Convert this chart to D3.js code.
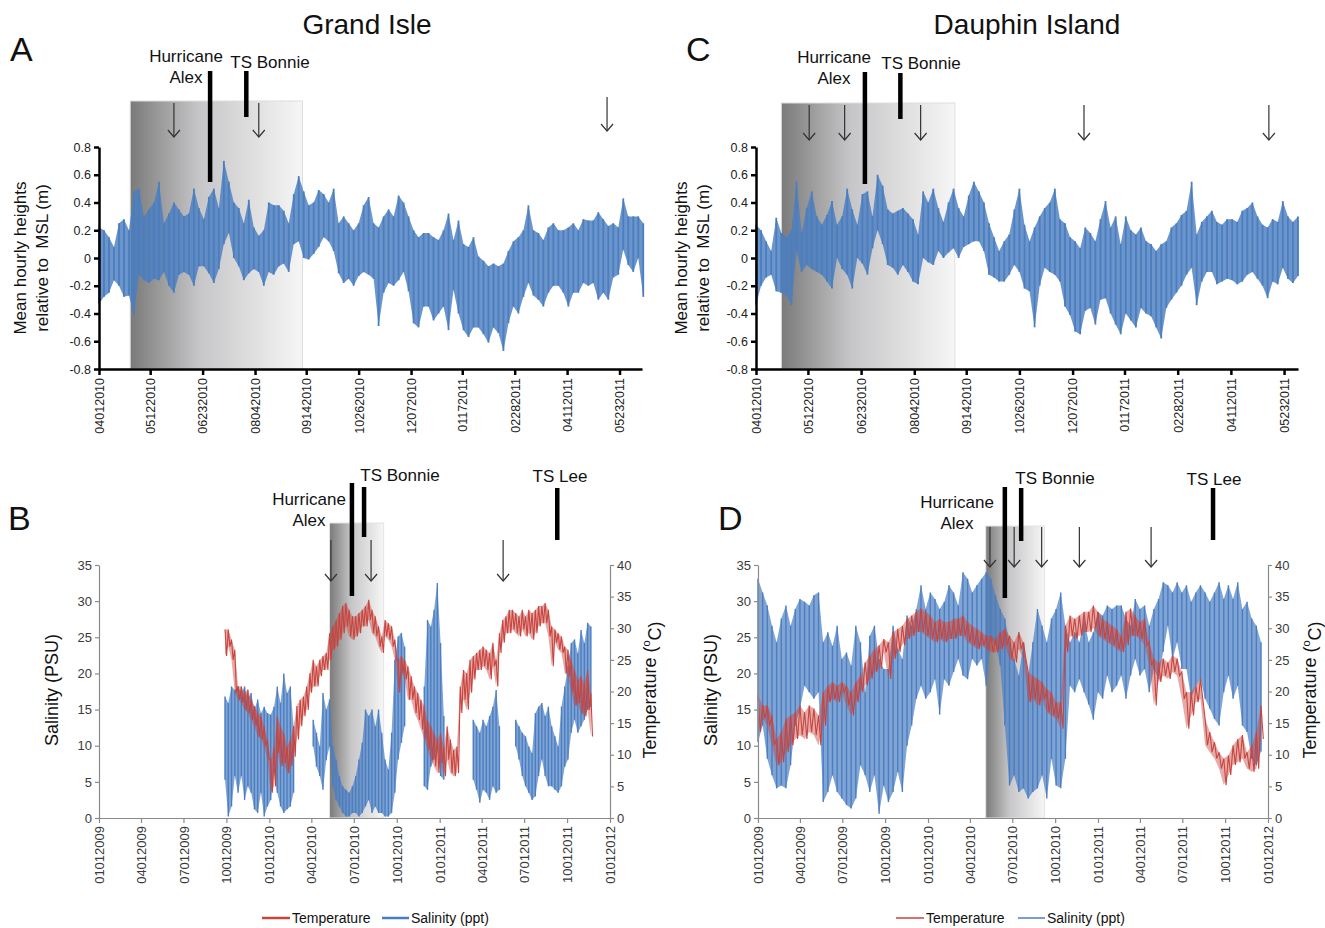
<!DOCTYPE html>
<html>
<head>
<meta charset="utf-8">
<script src="https://cdn.jsdelivr.net/npm/d3@7"></script>
<style>
  body { margin: 0; background: #fff; }
  svg { font-family: Arial, "Liberation Sans", sans-serif; }
</style>
</head>
<body>
<svg id="chart" width="1325" height="928"></svg>
<script>
// ---- tick labels ----
const SEA_TICK_LABELS = ["04012010", "05122010", "06232010", "08042010", "09142010", "10262010",
  "12072010", "01172011", "02282011", "04112011", "05232011"];
const SEA_Y_TICKS = [0.8, 0.6, 0.4, 0.2, 0, -0.2, -0.4, -0.6, -0.8];
const QUARTER_TICK_LABELS = ["01012009", "04012009", "07012009", "10012009", "01012010", "04012010",
  "07012010", "10012010", "01012011", "04012011", "07012011", "10012011", "01012012"];
const SAL_TICKS = [0, 5, 10, 15, 20, 25, 30, 35];
const TEMP_TICKS = [0, 5, 10, 15, 20, 25, 30, 35, 40];

// ---- Grand Isle water level, 4-day envelope (m), from 04/01/2010 ----
const GI_SEA_HI = [0.22, 0.2, 0.15, 0.08, 0.25, 0.28, 0.2, 0.48, 0.5, 0.3,
  0.35, 0.4, 0.55, 0.25, 0.32, 0.4, 0.35, 0.3, 0.32, 0.5,
  0.36, 0.28, 0.44, 0.5, 0.36, 0.7, 0.55, 0.4, 0.36, 0.25,
  0.42, 0.22, 0.16, 0.2, 0.4, 0.38, 0.38, 0.34, 0.25, 0.46,
  0.59, 0.48, 0.38, 0.4, 0.49, 0.46, 0.4, 0.5, 0.25, 0.3,
  0.25, 0.2, 0.25, 0.38, 0.44, 0.25, 0.22, 0.3, 0.35, 0.3,
  0.45, 0.4, 0.3, 0.2, 0.15, 0.18, 0.18, 0.15, 0.13, 0.2,
  0.32, 0.13, 0.27, 0.1, 0.08, 0.15, 0.01, -0.02, -0.06, -0.04,
  -0.06, -0.04, 0.05, 0.12, 0.15, 0.2, 0.38, 0.2, 0.18, 0.13,
  0.22, 0.25, 0.2, 0.2, 0.22, 0.25, 0.2, 0.28, 0.27, 0.27,
  0.33, 0.28, 0.23, 0.25, 0.22, 0.43, 0.3, 0.3, 0.3, 0.25];
const GI_SEA_LO = [-0.33, -0.28, -0.25, -0.16, -0.2, -0.28, -0.27, -0.41, -0.12, -0.16,
  -0.18, -0.15, -0.16, -0.1, -0.2, -0.25, -0.12, -0.1, -0.12, -0.2,
  -0.06, -0.06, -0.11, -0.18, -0.08, 0.1, 0.18, 0.0, -0.06, -0.16,
  -0.11, -0.08, -0.1, -0.2, -0.1, -0.12, -0.06, -0.04, -0.1, 0.1,
  0.12, 0.0, -0.01, 0.03, 0.08, 0.15, 0.12, 0.05, -0.11, -0.18,
  -0.15, -0.2, -0.13, -0.1, -0.12, -0.15, -0.49, -0.25, -0.18, -0.2,
  -0.16, -0.1, -0.24, -0.47, -0.5, -0.35, -0.35, -0.45, -0.4, -0.35,
  -0.52, -0.23, -0.4, -0.52, -0.57, -0.5, -0.5, -0.55, -0.61, -0.5,
  -0.54, -0.67, -0.47, -0.35, -0.4, -0.28, -0.18, -0.27, -0.3, -0.35,
  -0.25, -0.2, -0.2, -0.25, -0.35, -0.25, -0.25, -0.18, -0.2, -0.18,
  -0.3, -0.25, -0.3, -0.14, -0.12, 0.06, -0.05, -0.1, 0.0, -0.28];

// ---- Dauphin Island water level, 4-day envelope (m), from 04/01/2010 ----
const DI_SEA_HI = [0.24, 0.2, 0.12, 0.05, 0.29, 0.18, 0.15, 0.2, 0.55, 0.18,
  0.36, 0.48, 0.3, 0.24, 0.31, 0.41, 0.24, 0.3, 0.5, 0.35,
  0.24, 0.46, 0.48, 0.3, 0.6, 0.52, 0.35, 0.32, 0.34, 0.36,
  0.32, 0.28, 0.17, 0.48, 0.4, 0.5, 0.36, 0.26, 0.4, 0.5,
  0.36, 0.3, 0.45, 0.55, 0.48, 0.4, 0.25, 0.15, 0.05, 0.12,
  0.17, 0.35, 0.5, 0.24, 0.12, 0.22, 0.3, 0.36, 0.4, 0.5,
  0.28, 0.25, 0.15, 0.12, 0.07, 0.22, 0.18, 0.12, 0.28, 0.41,
  0.22, 0.3, 0.1, 0.3, 0.2, 0.17, 0.22, 0.12, 0.1, 0.05,
  0.1, 0.12, 0.22, 0.25, 0.31, 0.34, 0.55, 0.17, 0.26, 0.3,
  0.34, 0.26, 0.24, 0.28, 0.28, 0.26, 0.34, 0.36, 0.4, 0.3,
  0.24, 0.22, 0.28, 0.26, 0.41, 0.3, 0.26, 0.3];
const DI_SEA_LO = [-0.34, -0.2, -0.14, -0.12, -0.24, -0.25, -0.27, -0.34, 0.05, -0.1,
  -0.05, -0.08, -0.1, -0.12, -0.17, -0.22, 0.0, -0.08, -0.12, -0.22,
  0.0, -0.04, -0.12, 0.07, 0.2, 0.1, -0.05, -0.07, -0.12, -0.05,
  -0.1, -0.17, -0.19, 0.0, -0.03, -0.05, 0.05, 0.0, 0.04, 0.07,
  0.0, 0.08, 0.1, 0.12, 0.12, 0.05, -0.12, -0.14, -0.17, -0.17,
  -0.12, -0.05, -0.1, -0.22, -0.24, -0.5, -0.2, -0.07, -0.1, -0.12,
  -0.17, -0.35, -0.41, -0.53, -0.55, -0.38, -0.36, -0.48, -0.3, -0.29,
  -0.4, -0.48, -0.55, -0.4, -0.45, -0.5, -0.36, -0.4, -0.42, -0.5,
  -0.58, -0.36, -0.3, -0.25, -0.2, -0.12, -0.07, -0.34, -0.17, -0.1,
  -0.1, -0.19, -0.17, -0.15, -0.16, -0.19, -0.17, -0.12, -0.1, -0.15,
  -0.2, -0.29, -0.17, -0.19, -0.07, -0.15, -0.18, -0.13];

// ---- Grand Isle salinity / temperature, 7-day envelope, from 09/28/2009 ----
const GI_SAL_HI = [16.8, 15.9, 18.2, 17.7, 18.2, 17.3, 18.2, 16.4, 17.3, 15.0,
  16.4, 14.5, 15.4, 14.5, 14.3, 15.4, 18.2, 15.9, 20.0, 17.3,
  18.2, 12.7, null, null, null, null, null, 13.6, 11.8, 9.9,
  17.3, 15.0, 16.4, 9.9, 8.1, 5.8, 4.4, 3.9, 3.5, 4.4,
  5.8, 8.1, 10.4, 15.0, 14.1, 15.0, 12.7, 15.0, 11.8, 8.1,
  6.7, 11.8, 21.9, 25.1, 25.6, 23.7, null, null, null, null,
  null, 18.2, 27.4, 26.5, 28.8, 32.5, 24.2, 14.1, null, null,
  null, null, null, null, null, null, 13.6, 12.7, 11.8, 13.6,
  12.7, 14.1, 15.4, 17.7, 12.7, null, null, null, null, 13.6,
  12.7, 11.8, 11.3, 9.9, 9.0, 14.5, 15.4, 15.9, 14.1, 15.4,
  12.7, 11.3, 9.9, 15.4, 18.2, 21.0, 24.2, 24.7, 22.8, 26.0,
  24.2, 27.0, 26.5];
const GI_SAL_LO = [5.3, 0.2, 1.6, 5.8, 3.5, 5.8, 2.5, 4.4, 3.5, 1.2,
  0.7, 3.5, 0.2, 1.6, 2.5, 6.2, 3.5, 1.6, 0.7, 1.2,
  1.6, 3.5, null, null, null, null, null, 9.9, 7.1, 5.8,
  3.9, 8.0, 9.9, 4.4, 2.5, 1.6, 0.7, 0.2, 0.2, 0.7,
  0.7, 0.2, 0.7, 1.6, 2.5, 0.7, 1.6, 0.7, 0.7, 0.2,
  0.2, 0.7, 3.5, 8.1, 10.4, 12.7, null, null, null, null,
  null, 4.4, 3.9, 7.1, 8.1, 9.9, 5.8, 5.3, null, null,
  null, null, null, null, null, null, 5.3, 3.9, 2.1, 3.9,
  3.5, 2.5, 4.4, 3.5, 3.9, null, null, null, null, 9.9,
  8.1, 5.8, 4.4, 3.5, 2.5, 3.0, 5.8, 8.1, 5.8, 4.4,
  4.4, 3.9, 3.5, 4.4, 7.1, 8.1, 11.8, 13.6, 11.8, 12.7,
  13.6, 15.0, 15.4];
const GI_TEMP_HI = [29.8, 29.8, 28.2, 26.6, 20.8, 20.8, 19.8, 20.3, 18.7, 17.7,
  16.6, 16.1, 14.5, 12.4, 9.2, 11.3, 16.1, 14.5, 13.4, 11.3,
  12.4, 14.5, 17.7, 18.7, 19.2, 20.8, 22.9, 25.0, 24.0, 25.0,
  25.6, 26.1, 29.2, 30.3, 31.3, 32.4, 33.5, 34.0, 32.9, 31.9,
  31.9, 32.4, 32.9, 33.5, 34.5, 32.9, 31.9, 30.3, 28.7, 31.3,
  30.8, 30.3, 28.2, 25.0, 25.6, 25.0, 24.0, 22.4, 20.8, 19.8,
  18.7, 17.7, 15.5, 14.5, 13.4, 12.4, 13.4, 11.3, 14.5, 12.4,
  10.8, 11.3, 20.8, 23.4, 22.9, 25.0, 25.6, 26.1, 26.6, 27.1,
  26.6, 26.1, 27.7, 25.0, 29.2, 31.3, 31.9, 32.9, 32.9, 32.4,
  31.9, 32.9, 31.9, 32.9, 32.4, 32.9, 33.5, 33.5, 34.0, 32.9,
  30.3, 29.8, 29.2, 28.7, 27.1, 26.6, 25.0, 23.4, 21.9, 22.4,
  21.4, 23.4, 19.8];
const GI_TEMP_LO = [25.6, 27.1, 25.0, 19.8, 18.7, 18.2, 17.1, 16.6, 15.5, 14.5,
  12.9, 12.4, 11.3, 9.2, 4.0, 5.0, 10.3, 8.2, 8.7, 7.1,
  8.2, 9.7, 12.4, 14.5, 16.1, 17.1, 19.8, 20.8, 20.8, 22.4,
  23.4, 23.4, 25.0, 26.6, 27.1, 28.2, 29.2, 30.3, 28.7, 28.2,
  28.7, 29.2, 30.3, 30.3, 31.3, 29.2, 28.7, 27.1, 26.1, 28.7,
  28.2, 27.1, 25.0, 19.8, 22.9, 21.9, 18.7, 18.7, 16.6, 15.5,
  14.0, 12.4, 10.8, 9.2, 8.2, 7.1, 8.7, 6.6, 9.2, 7.1,
  6.6, 7.1, 16.6, 18.7, 17.1, 19.8, 21.9, 23.4, 23.4, 24.0,
  23.4, 21.9, 24.0, 20.8, 26.1, 27.7, 29.2, 29.2, 29.8, 29.2,
  28.7, 29.8, 28.7, 29.2, 28.2, 29.2, 30.3, 30.8, 30.8, 28.7,
  24.0, 27.7, 26.6, 26.1, 22.9, 22.4, 19.8, 17.7, 18.2, 16.6,
  16.1, 17.1, 12.9];

// ---- Dauphin Island salinity / temperature, 10-day envelope, from 01/01/2009 ----
const DI_SAL_HI = [33.1, 31.2, 29.4, 26.6, 24.3, 27.6, 29.4, 26.6, 28.9, 30.3,
  29.9, 29.4, 30.8, 31.2, 24.3, 25.7, 23.8, 26.6, 22.0, 22.9,
  21.1, 26.6, 24.3, 17.4, 25.2, 26.6, 22.0, 20.6, 20.6, 26.6,
  23.4, 22.0, 28.0, 26.6, 28.9, 32.2, 28.9, 31.2, 30.3, 28.9,
  29.9, 32.2, 31.2, 29.4, 34.0, 33.1, 31.2, 32.2, 33.1, 34.0,
  33.1, 30.8, 28.9, 27.6, 24.3, 22.0, 19.7, 24.3, 19.7, 24.3,
  28.9, 26.6, 24.3, 27.6, 28.9, 31.2, 26.6, 24.3, 25.7, 24.3,
  27.6, 24.3, 25.7, 28.5, 28.0, 29.4, 28.9, 29.4, 29.4, 27.6,
  26.6, 30.3, 28.9, 29.4, 26.6, 28.9, 30.3, 32.6, 32.2, 31.2,
  32.6, 31.2, 32.2, 29.9, 31.2, 32.2, 31.2, 29.9, 31.2, 32.6,
  30.3, 32.2, 30.3, 32.6, 28.9, 29.9, 27.6, 26.6, 24.3];
const DI_SAL_LO = [10.5, 12.8, 8.2, 5.9, 4.1, 4.5, 4.1, 7.3, 12.8, 15.1,
  18.3, 17.4, 16.5, 17.4, 2.2, 3.6, 5.9, 3.6, 2.7, 1.8,
  1.3, 2.7, 7.3, 5.9, 3.6, 5.9, 0.6, 4.5, 2.2, 3.6,
  6.4, 3.6, 10.0, 12.8, 16.5, 18.3, 16.5, 17.4, 19.2, 14.3,
  19.2, 18.3, 20.2, 22.0, 19.7, 19.2, 22.0, 21.1, 22.0, 18.3,
  24.7, 24.0, 21.1, 12.8, 4.5, 5.9, 3.6, 4.1, 2.7, 3.6,
  4.1, 5.9, 2.7, 8.2, 4.5, 4.1, 8.2, 18.3, 17.4, 19.2,
  17.4, 15.7, 13.6, 17.4, 16.5, 19.7, 17.4, 18.3, 19.7, 16.5,
  19.7, 22.0, 19.7, 20.6, 17.4, 20.6, 19.2, 23.0, 26.6, 22.0,
  24.3, 20.6, 20.6, 16.5, 18.3, 19.2, 16.5, 15.1, 13.7, 12.8,
  17.4, 19.7, 16.5, 18.3, 12.8, 11.9, 8.2, 7.3, 9.2];
const DI_TEMP_HI = [19.4, 17.8, 17.8, 16.2, 12.5, 13.6, 15.7, 16.2, 16.7, 17.8,
  16.7, 17.8, 17.3, 16.2, 19.9, 20.9, 21.5, 20.9, 21.5, 20.9,
  19.9, 21.5, 22.5, 24.6, 25.7, 26.7, 27.3, 28.3, 27.8, 29.4,
  29.9, 30.4, 31.5, 32.0, 32.6, 33.1, 32.6, 32.0, 31.0, 31.5,
  31.0, 31.0, 31.5, 31.5, 32.0, 31.0, 30.4, 29.9, 29.4, 28.8,
  28.8, 28.3, 29.4, 29.9, 28.8, 27.8, 29.4, 27.8, 23.1, 22.5,
  22.0, 21.5, 20.4, 19.9, 18.3, 18.3, 30.4, 32.0, 31.5, 32.0,
  32.6, 32.6, 33.6, 32.6, 31.5, 31.0, 30.4, 29.9, 28.8, 32.6,
  33.1, 32.0, 31.0, 31.5, 27.8, 25.2, 24.6, 25.2, 24.6, 25.7,
  25.2, 23.1, 19.9, 19.9, 20.9, 22.0, 15.7, 13.6, 12.0, 10.4,
  9.4, 9.9, 11.5, 12.5, 13.1, 10.4, 11.5, 13.6, 17.8];
const DI_TEMP_LO = [13.6, 15.7, 14.6, 11.5, 8.3, 8.8, 10.4, 11.5, 12.5, 13.1,
  12.5, 13.6, 13.1, 11.5, 14.6, 18.3, 18.8, 18.3, 19.9, 17.8,
  16.2, 18.3, 19.9, 21.0, 22.0, 23.1, 23.6, 26.2, 22.0, 25.2,
  26.2, 27.3, 28.3, 28.8, 29.4, 29.4, 28.8, 28.3, 27.8, 28.3,
  27.8, 28.3, 28.3, 28.8, 28.8, 27.8, 27.3, 26.7, 27.3, 26.7,
  26.2, 26.2, 26.7, 27.3, 25.2, 24.6, 26.7, 25.2, 18.3, 18.8,
  17.8, 18.8, 16.7, 16.2, 15.7, 14.1, 26.2, 28.8, 28.3, 28.8,
  29.4, 29.4, 30.0, 28.8, 28.3, 27.8, 27.3, 26.7, 26.2, 27.3,
  28.8, 28.8, 28.3, 27.3, 24.1, 17.8, 21.5, 22.5, 22.0, 23.1,
  22.5, 18.8, 14.1, 16.2, 18.3, 18.8, 11.5, 10.4, 9.4, 7.8,
  5.2, 6.8, 8.4, 8.8, 9.4, 7.8, 7.3, 7.8, 12.5];

// ---- event annotations (dates) ----
const GI_SEA_STORMS = [["Alex", "06292010"], ["Bonnie", "07282010"]];
const GI_SEA_ARROWS = ["05312010", "08072010", "05132011"];
const DI_SEA_STORMS = [["Alex", "06262010"], ["Bonnie", "07242010"]];
const DI_SEA_ARROWS = ["05132010", "06102010", "08092010", "12162010", "05112011"];
const GI_WQ_STORMS = [["Alex", "06272010"], ["Bonnie", "07232010"], ["Lee", "09102011"]];
const GI_WQ_ARROWS = ["05132010", "08072010", "05172011"];
const DI_WQ_STORMS = [["Alex", "06152010"], ["Bonnie", "07202010"], ["Lee", "09052011"]];
const DI_WQ_ARROWS = ["05142010", "07052010", "09022010", "11222010", "04252011"];

const SEA_BLUE = "#4a7ebf";
const SAL_BLUE = "#4a7ec2";
const TEMP_RED = "#c8453f";

const parseDate = d3.timeParse("%m%d%Y");
const svg = d3.select("#chart");
svg.append("rect").attr("width", 1325).attr("height", 928).attr("fill", "#fff");

const defs = svg.append("defs");
const grad = defs.append("linearGradient").attr("id", "shade")
  .attr("x1", "0").attr("x2", "1").attr("y1", "0").attr("y2", "0");
grad.append("stop").attr("offset", "0%").attr("stop-color", "#7a7a7a");
grad.append("stop").attr("offset", "40%").attr("stop-color", "#c6c6c8");
grad.append("stop").attr("offset", "100%").attr("stop-color", "#f6f6f6");

function samples(start, step, hi, lo) {
  return hi.map((h, i) => ({ t: d3.timeDay.offset(start, i * step), hi: h, lo: lo[i] }));
}

// hi at each sample, lo half a step later
function zigzag(list, step) {
  const pts = [];
  list.forEach((d) => {
    pts.push({ t: d.t, v: d.hi });
    pts.push({ t: d3.timeHour.offset(d.t, step * 12), v: d.lo });
  });
  return pts;
}

function drawArea(g, list, x, y, color, opacity) {
  const area = d3.area()
    .defined((d) => d.hi != null)
    .x((d) => x(d.t)).y0((d) => y(d.lo)).y1((d) => y(d.hi));
  g.append("path").datum(list).attr("d", area)
    .attr("fill", color).attr("fill-opacity", opacity);
}

// filled envelope plus a vertical rule at every sample
function drawBand(g, list, x, y, color, fillOpacity, ruleWidth) {
  drawArea(g, list, x, y, color, fillOpacity);
  g.append("g").selectAll("line").data(list.filter((d) => d.hi != null)).join("line")
    .attr("x1", (d) => x(d.t)).attr("x2", (d) => x(d.t))
    .attr("y1", (d) => y(d.hi)).attr("y2", (d) => y(d.lo))
    .attr("stroke", color).attr("stroke-width", ruleWidth);
}

function drawTrace(g, list, step, x, y, color, width) {
  const line = d3.line().defined((d) => d.v != null).x((d) => x(d.t)).y((d) => y(d.v));
  g.append("path").datum(zigzag(list, step)).attr("d", line)
    .attr("fill", "none").attr("stroke", color).attr("stroke-width", width);
}

function drawArrow(g, x, y0, y1) {
  g.append("line").attr("x1", x).attr("x2", x).attr("y1", y0).attr("y2", y1)
    .attr("stroke", "#333").attr("stroke-width", 1.2);
  g.append("polyline").attr("points", `${x - 6},${y1 - 7} ${x},${y1} ${x + 6},${y1 - 7}`)
    .attr("fill", "none").attr("stroke", "#333").attr("stroke-width", 1.2);
}

function drawBar(g, x, y0, y1) {
  g.append("line").attr("x1", x).attr("x2", x).attr("y1", y0).attr("y2", y1)
    .attr("stroke", "#000").attr("stroke-width", 4.5);
}

function label(g, text, x, y, size, anchor) {
  g.append("text").attr("x", x).attr("y", y).attr("font-size", size)
    .attr("text-anchor", anchor || "middle").attr("fill", "#111").text(text);
}

function rotLabel(g, text, x, y, size) {
  return g.append("text").attr("transform", `translate(${x},${y}) rotate(-90)`)
    .attr("text-anchor", "middle").attr("dy", "0.35em").attr("font-size", size)
    .attr("fill", "#111").style("white-space", "pre").text(text);
}

// ---------- panels A and C: water level ----------
function seaPanel(cfg) {
  const g = svg.append("g");
  const x = d3.scaleTime().domain(cfg.domain).range([cfg.left, cfg.right]);
  const y = d3.scaleLinear().domain([-0.8, 0.8]).range([369, 147]);

  const s0 = parseDate(cfg.shade[0]), s1 = parseDate(cfg.shade[1]);
  g.append("rect").attr("x", x(s0)).attr("y", cfg.shadeTop)
    .attr("width", x(s1) - x(s0)).attr("height", y(-0.8) - cfg.shadeTop)
    .attr("fill", "url(#shade)").attr("stroke", "#dedede");

  const list = samples(parseDate("04012010"), 4, cfg.hi, cfg.lo);
  drawBand(g, list, x, y, SEA_BLUE, 0.82, 1.8);

  const fmt = (v) => (v === 0 ? "0" : d3.format(".1f")(v).replace("−", "-"));
  const ya = g.append("g").attr("transform", `translate(${cfg.left},0)`)
    .call(d3.axisLeft(y).tickValues(SEA_Y_TICKS).tickFormat(fmt).tickSize(5).tickSizeOuter(0));
  const xa = g.append("g").attr("transform", `translate(0,${y(-0.8)})`)
    .call(d3.axisBottom(x).tickValues(SEA_TICK_LABELS.map(parseDate))
      .tickFormat(d3.timeFormat("%m%d%Y")).tickSize(6).tickSizeOuter(0));
  [ya, xa].forEach((a) => {
    a.select(".domain").attr("stroke", "#000").attr("stroke-width", 2.5);
    a.selectAll(".tick line").attr("stroke", "#000").attr("stroke-width", 2.5);
    a.selectAll("text").attr("font-size", 12.5).attr("fill", "#222")
      .attr("font-family", "Arial, 'Liberation Sans', sans-serif");
  });
  xa.selectAll("text").attr("transform", "rotate(-90)").attr("text-anchor", "end")
    .attr("x", -9).attr("y", 0).attr("dy", "0.35em");

  rotLabel(g, "Mean hourly heights", cfg.ylab1, 258, 17);
  rotLabel(g, "relative to  MSL (m)", cfg.ylab2, 258, 17);

  cfg.arrows.forEach((d, i) => {
    const a = cfg.arrowY[i] || cfg.arrowY[0];
    drawArrow(g, x(parseDate(d)), a[0], a[1]);
  });
  cfg.storms.forEach((s, i) => drawBar(g, x(parseDate(s[1])), cfg.barY[i][0], cfg.barY[i][1]));
  cfg.texts.forEach((t) => label(g, t[0], t[1], t[2], 17));

  label(g, cfg.title, cfg.titleX, 34, 28);
  label(g, cfg.letter, cfg.letterX, 61, 34, "start");
}

seaPanel({
  domain: [parseDate("04012010"), parseDate("06102011")], left: 99, right: 642,
  hi: GI_SEA_HI, lo: GI_SEA_LO, shade: ["04262010", "09112010"], shadeTop: 101,
  arrows: GI_SEA_ARROWS, arrowY: [[103, 137], [103, 137], [97, 131]],
  storms: GI_SEA_STORMS, barY: [[71, 182], [71, 117]],
  texts: [["Hurricane", 186, 62], ["Alex", 186, 83], ["TS Bonnie", 270, 68]],
  ylab1: 20, ylab2: 42, title: "Grand Isle", titleX: 367, letter: "A", letterX: 10
});

seaPanel({
  domain: [parseDate("04012010"), parseDate("06032011")], left: 756, right: 1298,
  hi: DI_SEA_HI, lo: DI_SEA_LO, shade: ["04212010", "09052010"], shadeTop: 103,
  arrows: DI_SEA_ARROWS, arrowY: [[105, 140]],
  storms: DI_SEA_STORMS, barY: [[72, 184], [73, 119]],
  texts: [["Hurricane", 834, 63], ["Alex", 834, 84], ["TS Bonnie", 921, 69]],
  ylab1: 681, ylab2: 703, title: "Dauphin Island", titleX: 1027, letter: "C", letterX: 686
});

// ---------- panels B and D: salinity and temperature ----------
function wqPanel(cfg) {
  const g = svg.append("g");
  const x = d3.scaleTime().domain([parseDate("01012009"), parseDate("01012012")])
    .range([cfg.left, cfg.right]);
  const ys = d3.scaleLinear().domain([0, 35]).range([818, 565]);
  const yt = d3.scaleLinear().domain([0, 40]).range([818, 565]);

  const s0 = parseDate(cfg.shade[0]), s1 = parseDate(cfg.shade[1]);
  g.append("rect").attr("x", x(s0)).attr("y", cfg.shadeTop)
    .attr("width", x(s1) - x(s0)).attr("height", 818 - cfg.shadeTop)
    .attr("fill", "url(#shade)").attr("stroke", "#e4e4e4");

  const start = parseDate(cfg.start);
  const sal = samples(start, cfg.step, cfg.salHi, cfg.salLo);
  drawBand(g, sal, x, ys, SAL_BLUE, 0.7, 1.4);
  const temp = samples(start, cfg.step, cfg.tempHi, cfg.tempLo);
  drawArea(g, temp, x, yt, TEMP_RED, 0.45);
  drawTrace(g, temp, cfg.step, x, yt, TEMP_RED, 1.1);

  const axes = [
    g.append("g").attr("transform", `translate(${cfg.left},0)`)
      .call(d3.axisLeft(ys).tickValues(SAL_TICKS).tickSize(4).tickSizeOuter(0)),
    g.append("g").attr("transform", `translate(${cfg.right},0)`)
      .call(d3.axisRight(yt).tickValues(TEMP_TICKS).tickSize(4).tickSizeOuter(0)),
    g.append("g").attr("transform", "translate(0,818)")
      .call(d3.axisBottom(x).tickValues(QUARTER_TICK_LABELS.map(parseDate))
        .tickFormat(d3.timeFormat("%m%d%Y")).tickSize(5).tickSizeOuter(0))
  ];
  axes.forEach((a) => {
    a.select(".domain").attr("stroke", "#8a8a8a").attr("stroke-width", 1.2);
    a.selectAll(".tick line").attr("stroke", "#8a8a8a").attr("stroke-width", 1.2);
    a.selectAll("text").attr("font-size", 13).attr("fill", "#3a3a3a")
      .attr("font-family", "Arial, 'Liberation Sans', sans-serif");
  });
  axes[2].selectAll("text").attr("transform", "rotate(-90)").attr("text-anchor", "end")
    .attr("x", -8).attr("y", 0).attr("dy", "0.35em");

  rotLabel(g, "Salinity (PSU)", cfg.salLab, 690, 18);
  const tl = rotLabel(g, "Temperature (", cfg.tempLab, 690, 18);
  tl.append("tspan").attr("font-size", 11).attr("dy", "-0.6em").text("o");
  tl.append("tspan").attr("dy", "0.6em").text("C)");

  cfg.arrows.forEach((d) => drawArrow(g, x(parseDate(d)), cfg.arrowY[0], cfg.arrowY[1]));
  cfg.storms.forEach((s, i) => drawBar(g, x(parseDate(s[1])), cfg.barY[i][0], cfg.barY[i][1]));
  cfg.texts.forEach((t) => label(g, t[0], t[1], t[2], 17));
  label(g, cfg.letter, cfg.letterX, 530, 34, "start");

  // legend
  const lg = cfg.legend;
  g.append("line").attr("x1", lg[0]).attr("x2", lg[0] + 28).attr("y1", 918).attr("y2", 918)
    .attr("stroke", TEMP_RED).attr("stroke-width", cfg.legendW);
  label(g, "Temperature", lg[0] + 30, 923, 14, "start");
  g.append("line").attr("x1", lg[1]).attr("x2", lg[1] + 27).attr("y1", 918).attr("y2", 918)
    .attr("stroke", SAL_BLUE).attr("stroke-width", cfg.legendW);
  label(g, "Salinity (ppt)", lg[1] + 29, 923, 14, "start");
}

wqPanel({
  left: 99, right: 610, start: "09282009", step: 7,
  salHi: GI_SAL_HI, salLo: GI_SAL_LO, tempHi: GI_TEMP_HI, tempLo: GI_TEMP_LO,
  shade: ["05102010", "09032010"], shadeTop: 523,
  arrows: GI_WQ_ARROWS, arrowY: [540, 581],
  storms: GI_WQ_STORMS, barY: [[483, 596], [487, 537], [488, 540]],
  texts: [["Hurricane", 309, 505], ["Alex", 309, 526], ["TS Bonnie", 400, 481], ["TS Lee", 560, 482]],
  salLab: 52, tempLab: 650, letter: "B", letterX: 8, legend: [262, 382], legendW: 2.5
});

wqPanel({
  left: 758, right: 1268, start: "01012009", step: 10,
  salHi: DI_SAL_HI, salLo: DI_SAL_LO, tempHi: DI_TEMP_HI, tempLo: DI_TEMP_LO,
  shade: ["05052010", "09082010"], shadeTop: 526,
  arrows: DI_WQ_ARROWS, arrowY: [527, 567],
  storms: DI_WQ_STORMS, barY: [[487, 598], [488, 541], [488, 540]],
  texts: [["Hurricane", 957, 508], ["Alex", 957, 529], ["TS Bonnie", 1055, 484], ["TS Lee", 1214, 485]],
  salLab: 711, tempLab: 1310, letter: "D", letterX: 718, legend: [896, 1018], legendW: 1.5
});
</script>
</body>
</html>
